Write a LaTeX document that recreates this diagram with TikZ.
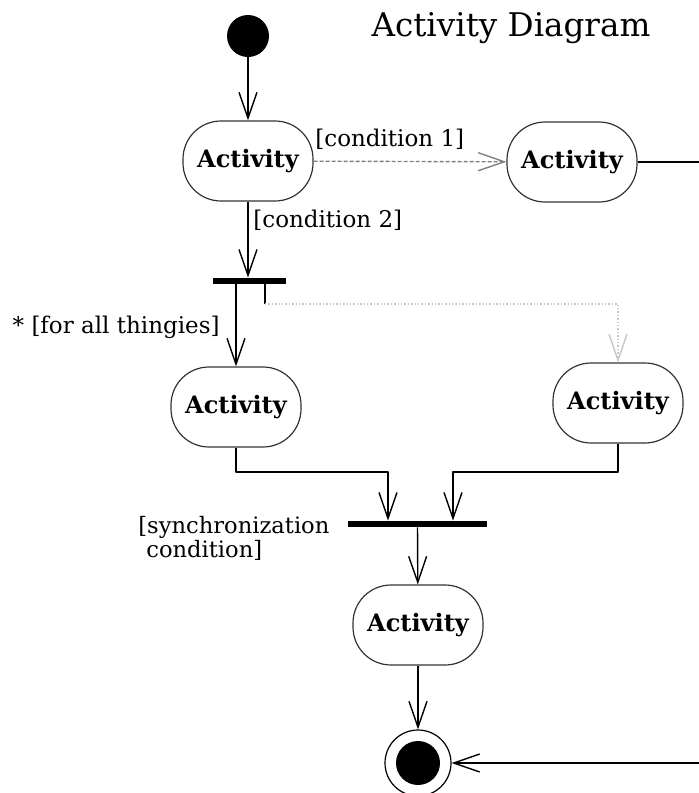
\documentclass[tikz,border=0pt]{standalone}
\usepackage{fontspec}
\setmainfont{DejaVu Serif}
\usetikzlibrary{arrows.meta}

\begin{document}
\begin{tikzpicture}[x=0.5pt,y=-0.5pt,>={Straight Barb[length=13pt,width=9pt]},line join=round,
  act/.style={draw=black!80,line width=0.6pt,rounded corners=19pt,minimum width=65pt,minimum height=40pt,inner sep=1pt,font=\fontsize{12}{14}\selectfont\bfseries},
  bar/.style={fill,inner sep=0pt,minimum height=3pt},
  flow/.style={->,line width=0.7pt},
  guard/.style={inner sep=1pt,font=\fontsize{11.5}{13}\selectfont}]
  \useasboundingbox (0,0) rectangle (699,793);
  % states
  \node[circle,fill,inner sep=0pt,minimum size=21pt] (start) at (248,36) {};
  \node[font=\fontsize{16.3}{19}\selectfont] (title) at (511,28) {Activity Diagram};
  \node[act] (act1) at (248,161) {Activity};
  \node[act] (act2) at (572,162) {Activity};
  \node[bar,minimum width=36.5pt] (fork) at (249.5,281) {};
  \node[act] (act3) at (236,407) {Activity};
  \node[act] (act4) at (618,403) {Activity};
  \node[bar,minimum width=69.5pt] (join) at (417.5,524) {};
  \node[act] (act5) at (418,625) {Activity};
  \node[circle,draw,line width=0.6pt,minimum size=33pt] (final) at (418,763) {};
  \fill (final) circle (11pt);
  \coordinate (tick) at (265,304);
  \coordinate (jl) at (388,472);
  \coordinate (jr) at (453,472);
  \coordinate (outR) at (699,162);
  \coordinate (outF) at (699,763);
  % transitions
  \draw[flow] (start) -- (act1);
  \draw[flow,gray,dash pattern=on 2pt off 1pt] (act1) -- (act2);
  \draw[line width=0.7pt] (act2) -- (outR);
  \draw[flow] (act1.south) -- (act1.south |- fork.north);
  \draw[flow] (fork.south -| act3) -- (act3);
  \draw[line width=0.7pt] (fork.south -| tick) -- (tick);
  \draw[flow,gray!45,densely dotted] (tick) -| (act4);
  \draw[flow] (act3) |- (jl) -- (jl |- join.north);
  \draw[flow] (act4) |- (jr) -- (jr |- join.north);
  \draw[flow] (join) -- (act5);
  \draw[flow] (act5) -- (final);
  \draw[flow] (outF) -- (final);
  % guards
  \node[guard,anchor=west] (cond1) at (313,139) {[condition 1]};
  \node[guard,anchor=west] (cond2) at (251,220) {[condition 2]};
  \node[guard,anchor=east] (each) at (222,327) {* [for all thingies]};
  \node[guard,anchor=west,align=left,font=\fontsize{11.3}{10}\selectfont] (sync) at (136,538) {[synchronization\\\hspace{4pt}condition]};
\end{tikzpicture}
\end{document}
